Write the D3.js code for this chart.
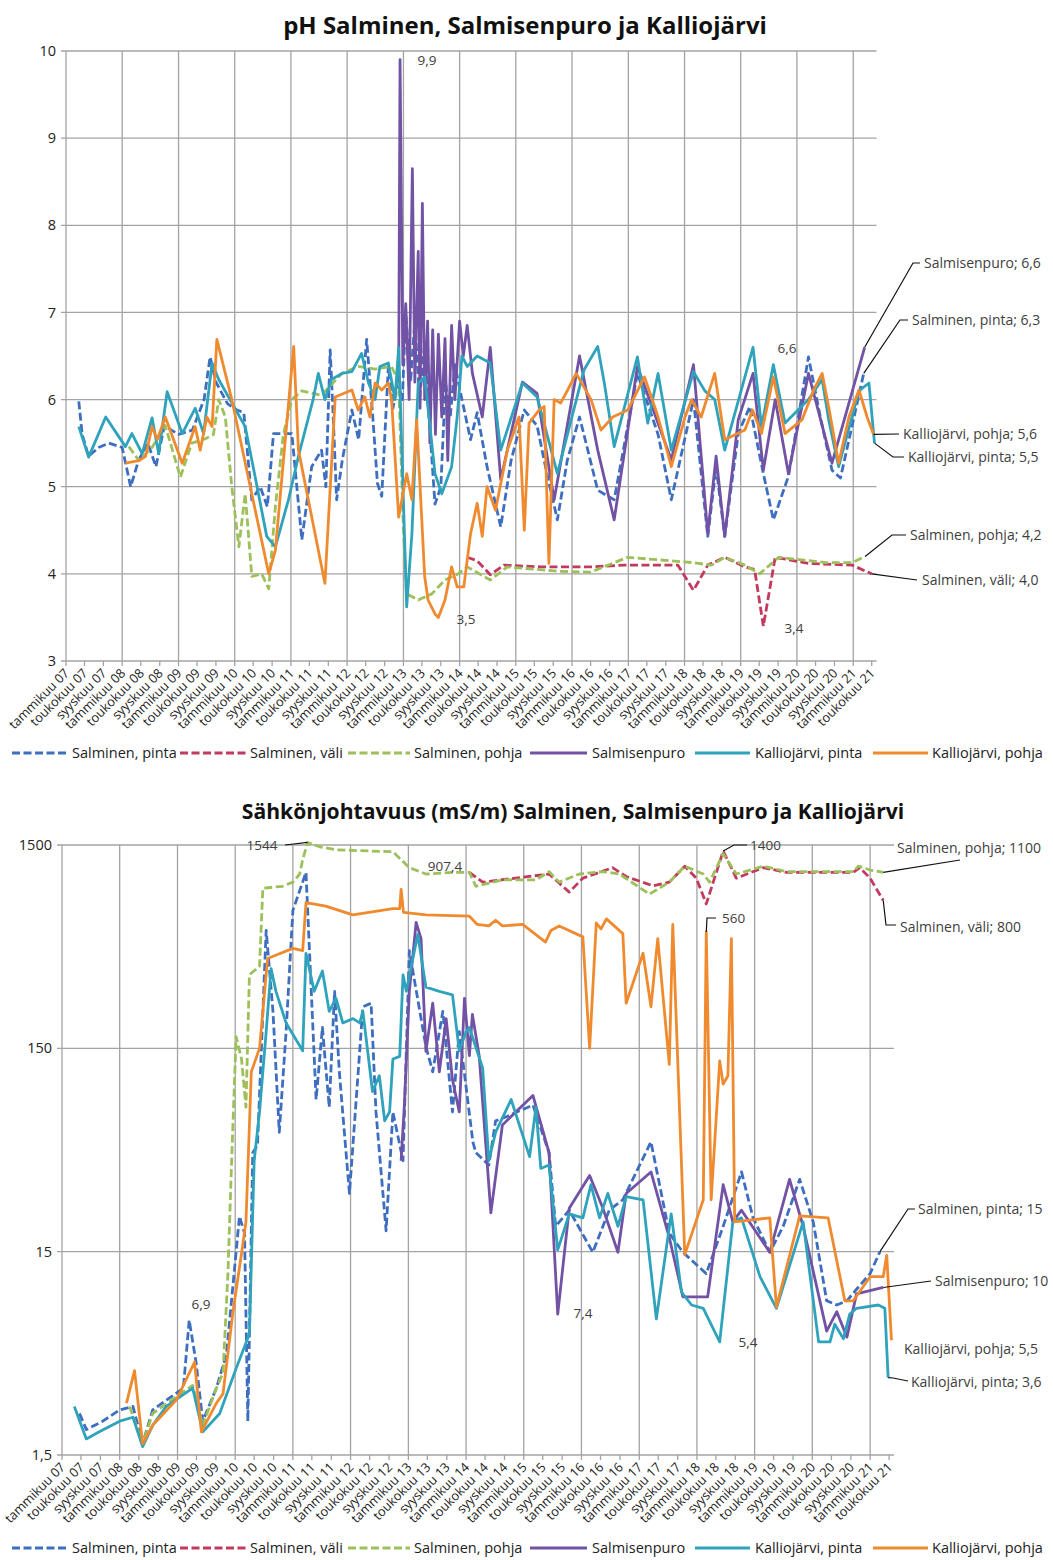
<!DOCTYPE html>
<html>
<head>
<meta charset="utf-8">
<script src="https://cdn.jsdelivr.net/npm/d3@7"></script>
<style>
  body { margin: 0; background: #fff; }
  svg { display: block; }
  text { font-family: "Open Sans", Lato, sans-serif; }
</style>
</head>
<body>
<svg id="chart" width="1053" height="1560"></svg>
<script>
// ---- series meta ----
const seriesNames = ["Salminen, pinta", "Salminen, väli", "Salminen, pohja", "Salmisenpuro", "Kalliojärvi, pinta", "Kalliojärvi, pohja"];
const seriesColors = ["#3d6ec0", "#c23a5d", "#9dc05a", "#7252a5", "#2fa2bc", "#f08a2e"];
const seriesDashed = [true, true, true, false, false, false];

// month names used on the time axis (Jan, May, Sep)
const monthNames = { 0: "tammikuu", 4: "toukokuu", 8: "syyskuu" };

// ---- pH ----
const phSalminenPinta = [
["2007-03-25",5.98],["2007-04-16",5.6],["2007-05-28",5.35],["2007-08-01",5.45],["2007-10-07",5.5],["2008-01-01",5.45],["2008-02-25",5.0],["2008-04-16",5.3],["2008-06-16",5.5],["2008-08-07",5.23],["2008-10-01",5.7],["2009-01-01",5.6],["2009-04-01",5.65],["2009-06-16",6.0],["2009-07-25",6.49],["2009-09-01",6.2],["2009-11-16",5.95],["2010-01-16",5.88],["2010-03-01",5.85],["2010-04-22",4.85],["2010-06-16",5.0],["2010-08-01",4.77],["2010-09-10",5.61],["2011-01-07",5.61],["2011-03-13",4.39],["2011-05-16",5.23],["2011-07-19",5.42],["2011-08-16",5.0],["2011-09-13",6.57],["2011-10-01",5.88],["2011-10-25",4.85],["2011-12-01",5.31],["2012-02-01",5.88],["2012-03-16",5.54],["2012-05-07",6.69],["2012-06-16",5.8],["2012-07-16",5.04],["2012-08-13",4.89],["2012-09-25",6.38],["2012-10-25",5.9],["2012-11-25",6.2],["2012-12-25",6.0],["2013-01-16",7.0],["2013-02-16",6.2],["2013-03-16",6.9],["2013-04-16",6.0],["2013-05-16",6.6],["2013-06-16",5.8],["2013-07-25",4.8],["2013-09-01",5.0],["2013-10-01",6.2],["2013-11-01",5.8],["2013-12-01",6.4],["2014-01-16",6.0],["2014-03-13",5.54],["2014-04-25",5.85],["2014-06-28",5.23],["2014-09-25",4.54],["2014-12-01",5.3],["2015-02-25",5.88],["2015-05-19",5.7],["2015-07-22",5.15],["2015-09-28",4.62],["2015-12-01",5.3],["2016-02-19",5.8],["2016-06-16",4.96],["2016-10-01",4.85],["2017-03-01",6.3],["2017-07-13",5.6],["2017-10-07",4.85],["2018-02-28",6.0],["2018-06-01",4.43],["2018-07-25",5.23],["2018-09-19",4.43],["2018-12-16",5.61],["2019-03-01",5.92],["2019-05-28",5.15],["2019-08-01",4.62],["2019-11-07",5.12],["2020-03-16",6.49],["2020-06-01",5.8],["2020-08-16",5.19],["2020-10-10",5.1],["2021-03-10",6.3]
];
const phSalminenVali = [
["2014-02-19",4.19],["2014-04-25",4.15],["2014-07-19",3.99],["2014-10-16",4.1],["2015-06-13",4.08],["2016-05-01",4.08],["2016-12-07",4.1],["2017-11-19",4.1],["2018-02-28",3.81],["2018-06-01",4.1],["2018-09-19",4.19],["2019-01-28",4.08],["2019-04-01",4.05],["2019-05-28",3.4],["2019-08-13",4.19],["2020-03-16",4.12],["2020-12-25",4.1],["2021-05-01",4.0]
];
const phSalminenPohja = [
["2008-02-13",5.46],["2008-04-19",5.3],["2008-07-13",5.45],["2008-10-07",5.7],["2009-01-13",5.11],["2009-03-28",5.5],["2009-06-25",5.55],["2009-08-16",5.6],["2009-09-19",6.0],["2009-11-01",5.8],["2009-12-13",5.0],["2010-01-28",4.31],["2010-03-10",4.92],["2010-04-22",3.97],["2010-06-25",4.0],["2010-08-10",3.83],["2010-09-22",4.77],["2010-11-13",5.6],["2011-01-07",6.0],["2011-03-13",6.1],["2011-07-19",6.05],["2011-11-28",6.3],["2012-03-13",6.38],["2012-07-01",6.35],["2012-10-16",6.38],["2012-12-01",6.2],["2013-01-01",4.5],["2013-01-22",3.77],["2013-04-07",3.7],["2013-07-04",3.77],["2013-09-28",3.93],["2013-12-22",4.0],["2014-02-19",4.08],["2014-07-19",3.93],["2014-11-07",4.08],["2015-09-28",4.03],["2016-05-01",4.02],["2016-12-28",4.19],["2018-02-16",4.13],["2018-06-25",4.1],["2018-09-19",4.19],["2019-01-28",4.1],["2019-05-04",4.0],["2019-09-04",4.19],["2020-07-04",4.13],["2020-12-25",4.13],["2021-03-19",4.2]
];
const phSalmisenpuro = [
["2012-12-01",6.2],["2012-12-10",9.9],["2012-12-28",6.4],["2013-01-16",7.1],["2013-02-07",6.0],["2013-02-28",8.65],["2013-03-16",6.2],["2013-04-07",7.7],["2013-04-19",5.9],["2013-05-04",8.25],["2013-05-19",6.0],["2013-06-07",6.9],["2013-06-22",5.5],["2013-07-10",6.8],["2013-07-28",5.6],["2013-08-16",6.75],["2013-09-07",5.8],["2013-09-28",6.7],["2013-10-16",5.3],["2013-11-10",6.85],["2013-12-01",6.0],["2014-01-01",6.9],["2014-01-25",6.5],["2014-02-19",6.85],["2014-03-25",6.3],["2014-05-28",5.8],["2014-07-19",6.6],["2014-09-25",5.08],["2015-02-13",6.2],["2015-05-19",6.07],["2015-09-07",4.85],["2016-02-19",6.5],["2016-06-16",5.42],["2016-10-01",4.62],["2017-03-01",6.38],["2017-10-07",5.31],["2018-02-28",6.4],["2018-06-01",4.46],["2018-07-25",5.35],["2018-09-19",4.43],["2018-12-16",5.77],["2019-03-22",6.3],["2019-05-28",5.19],["2019-08-13",6.0],["2019-11-07",5.15],["2020-03-16",6.3],["2020-08-16",5.27],["2021-03-16",6.6]
];
const phKalliojarviPinta = [
["2007-03-25",5.69],["2007-05-28",5.34],["2007-09-16",5.8],["2008-01-22",5.46],["2008-03-04",5.61],["2008-05-10",5.38],["2008-07-13",5.79],["2008-08-25",5.38],["2008-10-19",6.09],["2009-01-25",5.61],["2009-04-19",5.9],["2009-06-13",5.61],["2009-08-07",6.42],["2009-09-19",6.23],["2010-03-10",5.69],["2010-05-13",5.12],["2010-07-28",4.43],["2010-09-22",4.31],["2010-12-16",4.85],["2011-02-19",5.35],["2011-05-25",6.0],["2011-06-28",6.3],["2011-08-10",6.0],["2011-09-22",6.23],["2011-11-28",6.3],["2012-02-01",6.32],["2012-04-04",6.53],["2012-05-19",6.19],["2012-07-01",6.0],["2012-08-01",6.38],["2012-09-25",6.42],["2012-11-07",6.0],["2012-12-01",6.6],["2013-01-22",3.62],["2013-02-25",4.46],["2013-04-07",6.19],["2013-05-19",6.26],["2013-07-25",5.15],["2013-09-07",4.92],["2013-11-10",5.23],["2013-12-16",5.8],["2014-01-16",6.5],["2014-02-19",6.38],["2014-04-25",6.5],["2014-07-19",6.42],["2014-09-25",5.42],["2015-02-13",6.19],["2015-05-19",6.03],["2015-09-28",5.15],["2016-03-19",6.34],["2016-06-16",6.61],["2016-07-28",6.2],["2016-10-01",5.46],["2017-03-01",6.49],["2017-05-07",5.73],["2017-07-13",6.3],["2017-10-07",5.42],["2018-02-28",6.32],["2018-05-13",6.1],["2018-07-16",6.0],["2018-09-19",5.42],["2019-03-22",6.6],["2019-05-16",5.69],["2019-08-01",6.4],["2019-10-16",5.73],["2020-03-16",6.0],["2020-06-13",6.23],["2020-07-25",5.77],["2020-09-28",5.23],["2021-02-07",6.1],["2021-04-13",6.19],["2021-05-19",5.5]
];
const phKalliojarviPohja = [
["2008-01-22",5.27],["2008-04-19",5.3],["2008-06-01",5.35],["2008-07-13",5.69],["2008-08-16",5.54],["2008-10-07",5.8],["2009-01-25",5.27],["2009-04-19",5.69],["2009-05-22",5.42],["2009-07-04",5.8],["2009-08-07",5.69],["2009-09-07",6.69],["2009-12-13",6.0],["2010-08-10",4.0],["2010-09-22",4.27],["2011-01-19",6.61],["2011-02-19",5.42],["2011-08-10",3.89],["2011-10-16",6.03],["2012-02-01",6.11],["2012-03-13",5.88],["2012-04-25",6.03],["2012-05-28",5.8],["2012-07-01",6.19],["2012-08-13",6.11],["2012-09-25",6.19],["2012-10-16",6.0],["2012-12-01",4.65],["2013-01-22",5.15],["2013-02-25",4.85],["2013-03-28",5.77],["2013-05-19",3.97],["2013-06-10",3.7],["2013-07-25",3.54],["2013-08-16",3.5],["2013-09-28",3.7],["2013-11-10",4.08],["2013-12-16",3.85],["2014-01-28",3.85],["2014-03-13",4.46],["2014-04-25",4.81],["2014-05-28",4.43],["2014-06-28",5.0],["2014-08-22",4.73],["2014-11-07",5.42],["2015-01-22",5.8],["2015-02-25",4.5],["2015-03-28",5.73],["2015-06-01",5.88],["2015-07-04",5.92],["2015-08-04",4.12],["2015-09-07",6.0],["2015-10-19",5.96],["2015-12-04",6.11],["2016-01-28",6.3],["2016-05-04",6.0],["2016-07-07",5.65],["2016-09-22",5.8],["2016-12-28",5.88],["2017-04-16",6.26],["2017-07-13",5.8],["2017-10-07",5.23],["2018-01-04",5.8],["2018-02-16",6.0],["2018-04-19",5.8],["2018-07-16",6.3],["2018-09-19",5.54],["2019-01-28",5.65],["2019-03-19",5.88],["2019-05-16",5.61],["2019-08-01",6.26],["2019-10-16",5.61],["2020-02-04",5.77],["2020-04-19",6.11],["2020-06-13",6.3],["2020-07-25",5.92],["2020-09-28",5.27],["2020-12-04",5.8],["2021-02-07",6.11],["2021-04-01",5.8],["2021-05-13",5.6]
];

// ---- conductivity (mS/m) ----
const ecSalminenPinta = [
["2007-04-22",2.4],["2007-06-04",2.0],["2007-09-16",2.2],["2008-01-01",2.5],["2008-03-25",2.6],["2008-05-25",1.7],["2008-07-28",2.5],["2009-02-07",3.2],["2009-03-16",6.9],["2009-04-28",4.3],["2009-06-10",2.2],["2009-09-04",3.2],["2009-11-07",4.7],["2010-01-28",22.4],["2010-03-01",18.5],["2010-03-22",2.2],["2010-04-22",46],["2010-05-22",50],["2010-07-16",570],["2010-08-28",228],["2010-10-07",58],["2010-11-19",181],["2011-01-01",715],["2011-03-25",1100],["2011-04-16",453],["2011-05-28",84],["2011-07-07",190],["2011-08-19",77],["2011-09-22",286],["2011-10-22",115],["2011-12-25",29],["2012-03-19",240],["2012-05-10",250],["2012-06-10",73],["2012-08-13",19],["2012-09-25",73],["2012-11-28",42],["2013-01-07",453],["2013-04-22",153],["2013-06-04",115],["2013-08-07",228],["2013-10-07",73],["2013-11-19",181],["2014-02-13",52],["2014-03-04",46],["2014-05-25",40],["2014-07-07",66],["2014-09-10",69],["2015-02-28",79],["2015-06-10",46],["2015-07-22",20],["2015-10-16",24],["2016-03-13",14.9],["2016-06-25",24],["2016-09-19",27],["2017-03-16",52],["2017-07-10",18.5],["2017-10-04",14.9],["2018-03-01",11.7],["2018-06-16",20],["2018-10-10",37],["2018-12-22",22],["2019-04-07",14.9],["2019-07-01",20],["2019-10-13",34],["2020-01-07",21],["2020-04-01",8.6],["2020-06-04",8.2],["2020-08-07",8.6],["2020-10-07",9.8],["2021-01-01",11.7],["2021-03-04",15]
];
const ecSalminenVali = [
["2014-01-22",1100],["2014-04-16",985],["2015-06-10",1080],["2015-10-16",880],["2016-01-10",1030],["2016-07-16",1160],["2016-10-10",1050],["2017-03-28",945],["2017-07-10",985],["2017-10-16",1180],["2017-12-28",1030],["2018-03-01",770],["2018-06-16",1400],["2018-09-07",1030],["2019-02-25",1160],["2019-07-22",1100],["2020-09-16",1100],["2020-10-28",1160],["2021-01-01",1030],["2021-03-25",800]
];
const ecSalminenPohja = [
["2008-03-04",2.6],["2008-05-25",1.7],["2008-07-28",2.4],["2008-12-25",2.9],["2009-04-07",3.3],["2009-06-10",2.1],["2009-09-04",3.2],["2009-10-16",3.8],["2009-11-16",11.7],["2009-12-07",37],["2009-12-28",105],["2010-01-07",171],["2010-02-10",133],["2010-03-10",77],["2010-04-01",345],["2010-06-04",380],["2010-06-25",920],["2010-10-28",940],["2011-01-01",985],["2011-02-13",1080],["2011-03-04",1270],["2011-04-04",1544],["2011-06-19",1470],["2011-10-01",1420],["2012-09-25",1390],["2013-01-07",1160],["2013-04-22",1080],["2013-10-07",1100],["2014-01-22",1100],["2014-03-04",940],["2014-08-19",1010],["2015-03-19",1010],["2015-06-10",1110],["2015-08-13",985],["2015-12-19",1080],["2016-05-16",1110],["2016-08-28",1080],["2017-03-07",860],["2017-07-10",985],["2017-10-16",1180],["2018-02-10",1080],["2018-03-22",985],["2018-06-16",1360],["2018-09-07",1080],["2019-02-25",1180],["2019-07-22",1110],["2020-09-16",1110],["2020-10-19",1180],["2021-01-01",1130],["2021-03-25",1100]
];
const ecSalmisenpuro = [
["2012-11-16",42],["2012-12-07",80],["2013-01-07",286],["2013-02-19",625],["2013-03-22",520],["2013-04-22",145],["2013-06-04",250],["2013-07-16",115],["2013-08-28",210],["2013-10-07",105],["2013-11-19",73],["2013-12-22",264],["2014-01-22",138],["2014-02-10",220],["2014-03-25",138],["2014-06-07",23.3],["2014-08-19",63],["2015-02-28",88],["2015-06-10",46],["2015-08-04",7.4],["2015-10-16",24.5],["2016-02-22",35.5],["2016-05-16",24.5],["2016-08-19",14.9],["2016-10-10",29],["2017-03-16",37],["2017-07-10",17.6],["2017-10-04",9],["2018-03-10",9],["2018-06-16",32],["2018-08-16",21],["2018-10-10",24],["2019-04-07",14.9],["2019-08-10",34],["2019-11-04",20],["2020-04-01",6.1],["2020-06-04",7.6],["2020-08-07",5.7],["2020-10-07",9.3],["2021-03-25",10]
];
const ecKalliojarviPinta = [
["2007-03-20",2.6],["2007-06-04",1.8],["2007-08-25",1.95],["2008-01-01",2.2],["2008-03-25",2.3],["2008-05-25",1.65],["2008-07-28",2.1],["2008-10-22",2.6],["2009-04-07",3.2],["2009-06-10",1.95],["2009-09-25",2.4],["2010-01-07",4.0],["2010-04-01",5.9],["2010-05-01",42],["2010-06-04",73],["2010-07-16",181],["2010-08-16",370],["2010-09-16",286],["2010-11-19",200],["2011-03-04",146],["2011-03-25",440],["2011-05-16",286],["2011-07-07",360],["2011-08-19",228],["2011-10-01",264],["2011-11-13",200],["2012-01-16",210],["2012-02-28",200],["2012-03-19",228],["2012-05-19",92],["2012-07-01",110],["2012-08-04",66],["2012-09-04",73],["2012-09-25",133],["2012-11-07",137],["2012-11-28",345],["2012-12-19",286],["2013-03-01",545],["2013-04-22",300],["2013-07-16",286],["2013-10-07",275],["2013-11-19",146],["2014-01-01",181],["2014-01-22",190],["2014-04-16",120],["2014-05-25",42],["2014-07-07",58],["2014-10-13",84],["2015-02-07",44],["2015-03-19",77],["2015-04-19",38.5],["2015-06-10",40],["2015-08-04",15.3],["2015-10-16",23],["2016-01-10",22],["2016-03-01",32],["2016-04-25",22],["2016-06-16",29],["2016-08-19",20],["2016-10-10",28],["2017-01-25",27],["2017-04-19",7.0],["2017-07-22",23],["2017-09-25",9.5],["2017-11-28",8.2],["2018-02-10",7.9],["2018-05-25",5.4],["2018-08-16",21],["2018-10-10",22],["2019-02-04",11.3],["2019-05-19",7.9],["2019-11-04",21],["2020-02-10",5.4],["2020-04-22",5.4],["2020-05-22",6.6],["2020-07-16",5.6],["2020-08-25",7.4],["2020-10-07",7.9],["2021-02-22",8.2],["2021-04-04",7.9],["2021-04-25",3.6]
];
const ecKalliojarviPohja = [
["2008-02-13",2.7],["2008-04-04",3.9],["2008-05-25",1.7],["2008-07-28",2.1],["2008-12-25",2.8],["2009-04-19",4.3],["2009-06-01",1.95],["2009-09-04",2.7],["2009-10-16",3.0],["2009-12-16",7.4],["2010-02-10",14.7],["2010-03-10",21],["2010-04-13",115],["2010-06-04",150],["2010-07-25",415],["2011-01-01",465],["2011-03-04",453],["2011-03-25",780],["2011-07-28",750],["2012-01-16",680],["2012-09-25",730],["2012-11-07",730],["2012-11-16",907.4],["2012-12-01",700],["2013-04-22",680],["2014-01-22",670],["2014-03-13",610],["2014-05-25",600],["2014-07-07",640],["2014-08-19",600],["2014-12-25",610],["2015-05-19",500],["2015-06-22",570],["2015-08-13",600],["2016-01-10",530],["2016-02-22",150],["2016-04-04",620],["2016-05-04",580],["2016-06-07",650],["2016-09-19",550],["2016-10-10",250],["2017-01-25",440],["2017-03-16",240],["2017-04-28",520],["2017-07-10",125],["2017-08-01",610],["2017-10-16",14.5],["2018-02-10",27],["2018-03-01",560],["2018-04-01",27],["2018-05-25",130],["2018-06-16",100],["2018-07-16",110],["2018-08-07",520],["2018-08-28",21],["2019-04-07",22],["2019-05-19",8.0],["2019-10-13",22.5],["2020-04-10",22],["2020-07-25",8.6],["2020-09-16",8.6],["2021-01-01",11.3],["2021-03-25",11.3],["2021-04-16",14.4],["2021-05-16",5.5]
];

const phSeries = [phSalminenPinta, phSalminenVali, phSalminenPohja, phSalmisenpuro, phKalliojarviPinta, phKalliojarviPohja];
const ecSeries = [ecSalminenPinta, ecSalminenVali, ecSalminenPohja, ecSalmisenpuro, ecKalliojarviPinta, ecKalliojarviPohja];

const phTicks = [3, 4, 5, 6, 7, 8, 9, 10];
const ecTicks = [1.5, 15, 150, 1500];

// ---- helpers ----
const parse = d3.timeParse("%Y-%m-%d");
const startDate = new Date(2007, 0, 1);
const endDate = new Date(2021, 5, 1);
const comma = s => String(s).replace(".", ",");
const phFmt = v => comma(v.toFixed(1));
const ecFmt = v => comma(v);

const svg = d3.select("#chart");
const gridColor = "#a3a3a3";
const labelColor = "#404040";

// scale a text's font size so it spans the given width
function fitWidth(sel, width) {
  const node = sel.node();
  const fs = parseFloat(sel.attr("font-size"));
  const w = node.getComputedTextLength();
  if (w > 0) sel.attr("font-size", (fs * width / w).toFixed(2));
}

function drawPanel(cfg) {
  const { x, y, series, ticks, fmt } = cfg;
  const g = svg.append("g");
  const [x0, x1] = x.range();
  const [yb, yt] = y.range();

  // title
  const t = g.append("text").attr("x", cfg.titleX).attr("y", cfg.titleY).attr("text-anchor", "middle")
    .attr("font-size", 20).attr("font-weight", 700).attr("fill", "#111").text(cfg.title);
  fitWidth(t, cfg.titleWidth);

  // horizontal gridlines (with small outside ticks)
  g.selectAll(".hg").data(ticks).join("line")
    .attr("x1", x0 - 5).attr("x2", x1).attr("y1", d => y(d)).attr("y2", d => y(d))
    .attr("stroke", gridColor).attr("stroke-width", 1.3);
  // vertical gridlines at every January
  const years = d3.timeYear.range(new Date(2008, 0, 1), new Date(2021, 0, 2));
  g.selectAll(".vg").data(years).join("line")
    .attr("x1", d => x(d)).attr("x2", d => x(d)).attr("y1", yt).attr("y2", yb)
    .attr("stroke", gridColor).attr("stroke-width", 1.3);
  // y axis line
  g.append("line").attr("x1", x0).attr("x2", x0).attr("y1", yt).attr("y2", yb)
    .attr("stroke", gridColor).attr("stroke-width", 1.3);

  // y tick labels
  g.selectAll(".yl").data(ticks).join("text")
    .attr("x", x0 - 10).attr("y", d => y(d)).attr("dy", "0.35em")
    .attr("text-anchor", "end").attr("font-size", 14.5).attr("fill", "#222")
    .text(cfg.tickFmt);

  // x ticks and rotated labels
  const xt = x.ticks(d3.timeMonth.every(4));
  g.selectAll(".xt").data(xt).join("line")
    .attr("x1", d => x(d)).attr("x2", d => x(d)).attr("y1", yb).attr("y2", yb + 5)
    .attr("stroke", gridColor).attr("stroke-width", 1.3);
  g.selectAll(".xl").data(xt).join("text")
    .attr("transform", d => `translate(${x(d) + 4},${yb + 13}) rotate(-45)`)
    .attr("text-anchor", "end").attr("font-size", 12.8).attr("fill", "#222")
    .text(d => monthNames[d.getMonth()] + " " + d3.timeFormat("%y")(d));

  // series lines
  const line = d3.line().x(d => x(parse(d[0]))).y(d => y(d[1]));
  series.forEach((s, i) => {
    g.append("path").datum(s).attr("d", line)
      .attr("fill", "none").attr("stroke", seriesColors[i]).attr("stroke-width", 2.8)
      .attr("stroke-linejoin", "round")
      .attr("stroke-dasharray", seriesDashed[i] ? "8,3.5" : null);
  });

  // legend
  const legendItems = [
    { lx0: 12, lx1: 68, tx: 72 },
    { lx0: 180, lx1: 246, tx: 250 },
    { lx0: 348, lx1: 410, tx: 414 },
    { lx0: 530, lx1: 587, tx: 592 },
    { lx0: 695, lx1: 750, tx: 755 },
    { lx0: 873, lx1: 928, tx: 932 }
  ];
  legendItems.forEach((it, i) => {
    g.append("line").attr("x1", it.lx0).attr("x2", it.lx1).attr("y1", cfg.legendY).attr("y2", cfg.legendY)
      .attr("stroke", seriesColors[i]).attr("stroke-width", 2.8)
      .attr("stroke-dasharray", seriesDashed[i] ? "8,3.5" : null);
    g.append("text").attr("x", it.tx).attr("y", cfg.legendY).attr("dy", "0.35em")
      .attr("font-size", 14.5).attr("fill", "#222").text(seriesNames[i]);
  });

  // point annotations
  const ann = g.append("g");
  const ptOf = d => [x(parse(d[0])), y(d[1])];
  cfg.pointLabels.forEach(p => {
    ann.append("text").attr("x", p.tx).attr("y", p.ty).attr("dy", "0.35em")
      .attr("text-anchor", p.anchor || "middle").attr("font-size", 13.5).attr("fill", labelColor)
      .text(fmt(p.d[1]));
    if (p.via) {
      ann.append("path").attr("d", d3.line()([ptOf(p.d), ...p.via])).attr("fill", "none")
        .attr("stroke", "#111").attr("stroke-width", 1.2);
    }
  });
  // end-of-series labels with leader lines
  cfg.endLabels.forEach(p => {
    const s = series[p.s];
    const last = s[s.length - 1];
    ann.append("text").attr("x", p.tx).attr("y", p.ty).attr("dy", "0.35em")
      .attr("font-size", 14).attr("fill", labelColor)
      .text(seriesNames[p.s] + "; " + fmt(last[1]));
    if (p.via) {
      ann.append("path").attr("d", d3.line()([ptOf(last), ...p.via])).attr("fill", "none")
        .attr("stroke", "#111").attr("stroke-width", 1.2);
    }
  });
}

const findPt = (s, date) => s.find(d => d[0] === date);

// ---- pH panel ----
const xPh = d3.scaleTime().domain([startDate, endDate]).range([66, 876.5]);
const yPh = d3.scaleLinear().domain([3, 10]).range([661, 51]);

drawPanel({
  x: xPh, y: yPh, series: phSeries, ticks: phTicks, fmt: phFmt,
  tickFmt: d => String(d),
  title: "pH Salminen, Salmisenpuro ja Kalliojärvi", titleX: 525, titleY: 34, titleWidth: 484,
  legendY: 753,
  pointLabels: [
    { d: findPt(phSalmisenpuro, "2012-12-10"), tx: 427, ty: 60 },
    { d: findPt(phKalliojarviPohja, "2013-08-16"), tx: 466, ty: 619 },
    { d: findPt(phKalliojarviPinta, "2019-03-22"), tx: 787, ty: 348 },
    { d: findPt(phSalminenVali, "2019-05-28"), tx: 794, ty: 628 }
  ],
  endLabels: [
    { s: 3, tx: 924, ty: 263, via: [[913, 263], [920, 263]] },
    { s: 0, tx: 912, ty: 320, via: [[900, 320], [908, 320]] },
    { s: 5, tx: 903, ty: 434, via: [[899, 434]] },
    { s: 4, tx: 908, ty: 457, via: [[893, 457], [904, 457]] },
    { s: 2, tx: 910, ty: 535, via: [[892, 535], [906, 535]] },
    { s: 1, tx: 922, ty: 580, via: [[917, 580]] }
  ]
});

// ---- conductivity panel ----
const xEc = d3.scaleTime().domain([startDate, endDate]).range([62, 894]);
const yEc = d3.scaleLog().domain([1.5, 1500]).range([1455, 845]);

drawPanel({
  x: xEc, y: yEc, series: ecSeries, ticks: ecTicks, fmt: ecFmt,
  tickFmt: d => comma(d),
  title: "Sähkönjohtavuus (mS/m) Salminen, Salmisenpuro ja Kalliojärvi", titleX: 573, titleY: 819, titleWidth: 663,
  legendY: 1548,
  pointLabels: [
    { d: findPt(ecSalminenPohja, "2011-04-04"), tx: 262, ty: 845, via: [[285, 845]] },
    { d: findPt(ecKalliojarviPohja, "2012-11-16"), tx: 445, ty: 866 },
    { d: findPt(ecSalminenVali, "2018-06-16"), tx: 750, ty: 845, anchor: "start", via: [[734, 845], [747, 845]] },
    { d: findPt(ecKalliojarviPohja, "2018-03-01"), tx: 722, ty: 918, anchor: "start", via: [[707, 918], [716, 918]] },
    { d: findPt(ecSalminenPinta, "2009-03-16"), tx: 201, ty: 1304 },
    { d: findPt(ecSalmisenpuro, "2015-08-04"), tx: 583, ty: 1313 },
    { d: findPt(ecKalliojarviPinta, "2018-05-25"), tx: 748, ty: 1342 }
  ],
  endLabels: [
    { s: 2, tx: 897, ty: 848, via: [[960, 860]] },
    { s: 1, tx: 900, ty: 927, via: [[886, 925], [896, 925]] },
    { s: 0, tx: 918, ty: 1209, via: [[908, 1209], [915, 1209]] },
    { s: 3, tx: 935, ty: 1281, via: [[931, 1281]] },
    { s: 5, tx: 904, ty: 1349 },
    { s: 4, tx: 911, ty: 1382, via: [[893, 1378], [908, 1381]] }
  ]
});
</script>
</body>
</html>
